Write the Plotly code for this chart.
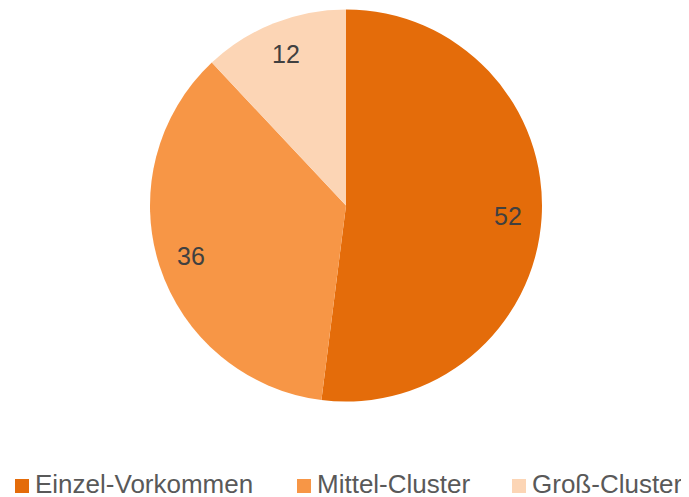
import math
import plotly.graph_objects as go

labels = ["Einzel-Vorkommen", "Mittel-Cluster", "Groß-Cluster"]
values = [52, 36, 12]
colors = ["#E46C0A", "#F79646", "#FCD5B5"]

W, H = 689, 497
OFF = 8  # page body margin offset
cx, cy, R = 346 - OFF, 205.5 - OFF, 196
dom_x = [(cx - R) / W, (cx + R) / W]
dom_y = [(H - (cy + R)) / H, (H - (cy - R)) / H]

FONT = "Liberation Sans, Arial, sans-serif"

fig = go.Figure(go.Pie(
    labels=labels, values=values, sort=False, direction="clockwise", rotation=0,
    marker=dict(colors=colors, line=dict(width=0)),
    textinfo="none", hoverinfo="label+value",
    domain=dict(x=dom_x, y=dom_y),
))

# data labels along each slice bisector
total = sum(values)
acc = 0
annotations = []
for v in values:
    mid = (acc + v / 2) / total * 2 * math.pi
    acc += v
    px = cx + 0.83 * R * math.sin(mid)
    py = cy - 0.83 * R * math.cos(mid)
    annotations.append(dict(
        x=px / W, y=1 - py / H, xref="paper", yref="paper",
        xanchor="center", yanchor="middle",
        text=str(v), showarrow=False,
        font=dict(family=FONT, size=25, color="#404040"),
    ))

# custom legend (square swatch + text) along the bottom
legend_x = [15, 297, 512]   # swatch left edges in px
shapes = []
for name, col, lx in zip(labels, colors, legend_x):
    lx -= OFF
    shapes.append(dict(
        type="rect", xref="paper", yref="paper",
        x0=lx / W, x1=(lx + 14) / W,
        y0=1 - (493 - OFF) / H, y1=1 - (479 - OFF) / H,
        fillcolor=col, line=dict(width=0),
    ))
    annotations.append(dict(
        x=(lx + 18) / W, y=1 - (484 - OFF) / H, xref="paper", yref="paper",
        xanchor="left", yanchor="middle", text=name, showarrow=False,
        font=dict(family=FONT, size=26, color="#595959"),
    ))

fig.update_layout(
    width=W, height=H,
    margin=dict(l=0, r=0, t=0, b=0, autoexpand=False),
    paper_bgcolor="white", plot_bgcolor="white",
    annotations=annotations, shapes=shapes,
    showlegend=False,
)

fig.write_html("out.html")
